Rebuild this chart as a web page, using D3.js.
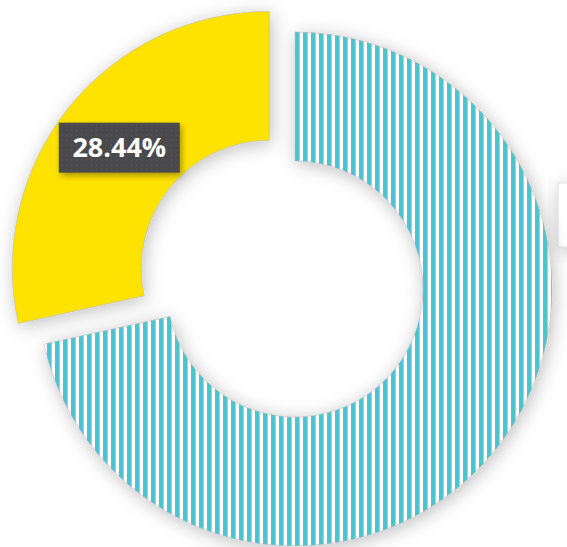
<!DOCTYPE html>
<html>
<head>
<meta charset="utf-8">
<script src="https://cdn.jsdelivr.net/npm/d3@7"></script>
<style>
  html, body { margin: 0; padding: 0; background: #fff; }
  svg { display: block; }
</style>
</head>
<body>
<svg id="chart" width="567" height="547"></svg>
<script>
const categories = ["Series A", "Series B"];
const values = [71.56, 28.44];
const labels = ["", "28.44%"];
const colors = ["#4cc4cb", "#ffe300"];
const exploded = [false, true];

const W = 567, H = 547;
const cx = 295, cy = 289, outerR = 257, innerR = 128, explode = 33;

const svg = d3.select("#chart");
const defs = svg.append("defs");

const f = defs.append("filter").attr("id", "shadow")
  .attr("x", "-25%").attr("y", "-25%").attr("width", "150%").attr("height", "150%");
f.append("feDropShadow").attr("dx", 2).attr("dy", 3).attr("stdDeviation", 9)
  .attr("flood-color", "#000").attr("flood-opacity", 0.25);

const lf = defs.append("filter").attr("id", "lshadow")
  .attr("x", "-30%").attr("y", "-30%").attr("width", "160%").attr("height", "160%");
lf.append("feDropShadow").attr("dx", 2).attr("dy", 3).attr("stdDeviation", 3)
  .attr("flood-color", "#000").attr("flood-opacity", 0.35);

const stripe = defs.append("pattern").attr("id", "stripes")
  .attr("patternUnits", "userSpaceOnUse").attr("width", 8).attr("height", 8);
stripe.append("rect").attr("width", 8).attr("height", 8).attr("fill", "#ffffff");
stripe.append("rect").attr("x", 0).attr("width", 4.6).attr("height", 8).attr("fill", colors[0]);

const dots = defs.append("pattern").attr("id", "dots")
  .attr("patternUnits", "userSpaceOnUse").attr("width", 5).attr("height", 5);
dots.append("rect").attr("width", 5).attr("height", 5).attr("fill", "#4a4a4c");
dots.append("circle").attr("cx", 2.5).attr("cy", 2.5).attr("r", 0.8).attr("fill", "#58585a");

// faint box at right edge
svg.append("rect").attr("x", 558).attr("y", 183).attr("width", 40).attr("height", 64)
  .attr("fill", "#fff").attr("stroke", "#dcdcdc").attr("stroke-width", 1)
  .attr("filter", "url(#shadow)");

const pie = d3.pie().sort(null).value(d => d).startAngle(0).endAngle(2 * Math.PI);
const arcs = pie(values);
const arc = d3.arc().innerRadius(innerR).outerRadius(outerR);

const g = svg.append("g").attr("transform", `translate(${cx},${cy})`);

function offset(d, i) {
  if (!exploded[i]) return [0, 0];
  const m = (d.startAngle + d.endAngle) / 2;
  return [Math.sin(m) * explode, -Math.cos(m) * explode];
}

g.selectAll("path.slice").data(arcs).join("path")
  .attr("class", "slice")
  .attr("transform", (d, i) => { const o = offset(d, i); return `translate(${o[0]},${o[1]})`; })
  .attr("d", arc)
  .attr("fill", (d, i) => i === 0 ? "url(#stripes)" : colors[i])
  .attr("stroke", "#b8b8b8").attr("stroke-width", 0.6)
  .attr("filter", "url(#shadow)");

const lblW = 121, lblH = 50;
const lg = g.selectAll("g.lbl").data(arcs.filter((d, i) => labels[i])).join("g")
  .attr("class", "lbl")
  .attr("transform", d => {
    const i = arcs.indexOf(d);
    const o = offset(d, i);
    const c = arc.centroid(d);
    return `translate(${c[0] + o[0]},${c[1] + o[1]})`;
  });
lg.append("rect")
  .attr("x", -lblW / 2).attr("y", -lblH / 2).attr("width", lblW).attr("height", lblH)
  .attr("fill", "url(#dots)").attr("filter", "url(#lshadow)");
lg.append("text")
  .attr("text-anchor", "middle").attr("dy", "0.36em")
  .attr("fill", "#ffffff")
  .style("font-family", "'Open Sans', sans-serif")
  .style("font-weight", "700")
  .style("font-size", "27px")
  .text(d => labels[arcs.indexOf(d)]);
</script>
</body>
</html>
